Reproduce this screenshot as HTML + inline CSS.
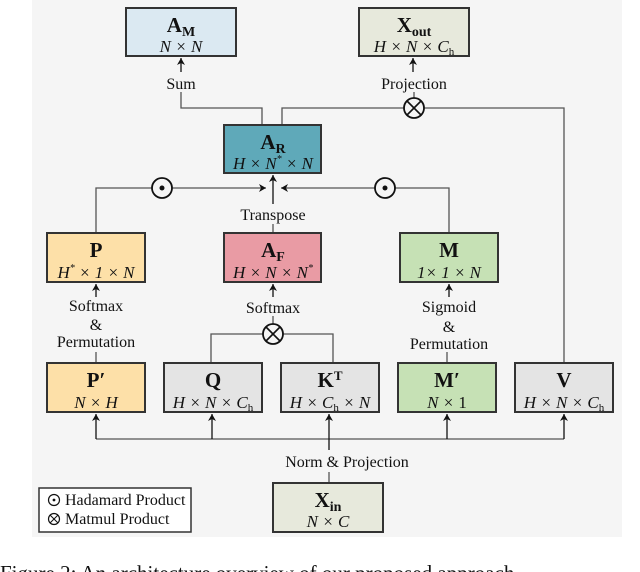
<!DOCTYPE html>
<html><head><meta charset="utf-8"><style>
html,body{margin:0;padding:0;background:#fff;width:640px;height:572px;overflow:hidden}
svg{display:block}
text{font-family:"Liberation Serif",serif;fill:#111}
.t{font-weight:bold;font-size:21px}
.s{font-style:italic;font-size:17px}
.l{font-size:16px}
</style></head><body>
<svg width="640" height="572" viewBox="0 0 640 572" xmlns="http://www.w3.org/2000/svg">
<defs><marker id="a" markerWidth="8" markerHeight="8" refX="7" refY="4" orient="auto" markerUnits="userSpaceOnUse"><path d="M0,0 L7,4 L0,8 L2,4 Z" fill="#111"/></marker></defs>
<rect x="32" y="0" width="590" height="537" fill="#f5f5f5"/>
<g stroke="#555" stroke-width="1.3" fill="none">
<!-- top -->
<line x1="181" y1="72" x2="181" y2="58" stroke="#111" marker-end="url(#a)"/>
<line x1="413" y1="72" x2="413" y2="58" stroke="#111" marker-end="url(#a)"/>
<polyline points="181,92 181,108 262,108 262,125"/>
<polyline points="282,125 282,108 404,108"/>
<polyline points="424,108 564,108 564,363"/>
<line x1="414" y1="92" x2="414" y2="98"/>
<!-- middle -->
<polyline points="96,233 96,188 152,188"/>
<line x1="172" y1="188" x2="266" y2="188" marker-end="url(#a)"/>
<polyline points="449,233 449,188 395,188"/>
<line x1="375" y1="188" x2="281" y2="188" marker-end="url(#a)"/>
<line x1="273" y1="204" x2="273" y2="175" stroke="#111" marker-end="url(#a)"/>
<line x1="273" y1="224" x2="273" y2="233"/>
<!-- lower labels -->
<line x1="96" y1="297" x2="96" y2="284" stroke="#111" marker-end="url(#a)"/>
<line x1="273" y1="297" x2="273" y2="284" stroke="#111" marker-end="url(#a)"/>
<line x1="449" y1="297" x2="449" y2="284" stroke="#111" marker-end="url(#a)"/>
<line x1="96" y1="352" x2="96" y2="363"/>
<line x1="447" y1="352" x2="447" y2="363"/>
<line x1="273" y1="316" x2="273" y2="324"/>
<polyline points="211,363 211,334 263,334"/>
<polyline points="283,334 333,334 333,363"/>
<!-- bottom -->
<polyline points="96,439 564,439"/>
<line x1="96" y1="439" x2="96" y2="414" stroke="#111" marker-end="url(#a)"/>
<line x1="212" y1="439" x2="212" y2="414" stroke="#111" marker-end="url(#a)"/>
<line x1="329" y1="450" x2="329" y2="414" stroke="#111" marker-end="url(#a)"/>
<line x1="447" y1="439" x2="447" y2="414" stroke="#111" marker-end="url(#a)"/>
<line x1="564" y1="439" x2="564" y2="414" stroke="#111" marker-end="url(#a)"/>
<line x1="329" y1="472" x2="329" y2="483"/>
</g>
<!-- operators -->
<g stroke="#111" stroke-width="1.8" fill="#f5f5f5">
<circle cx="414" cy="108" r="10"/><circle cx="162" cy="188" r="10"/><circle cx="385" cy="188" r="10"/><circle cx="273" cy="334" r="10"/>
</g>
<g stroke="#111" stroke-width="1.6">
<line x1="407" y1="101" x2="421" y2="115"/><line x1="421" y1="101" x2="407" y2="115"/>
<line x1="266" y1="327" x2="280" y2="341"/><line x1="280" y1="327" x2="266" y2="341"/>
</g>
<circle cx="162" cy="188" r="2.5" fill="#111"/><circle cx="385" cy="188" r="2.5" fill="#111"/>
<!-- boxes -->
<g stroke="#333" stroke-width="2">
<rect x="126" y="8" width="110" height="48" fill="#dbe9f2"/>
<rect x="359" y="8" width="110" height="48" fill="#e7e9dc"/>
<rect x="224" y="125" width="97" height="48" fill="#5fa9b9"/>
<rect x="47" y="233" width="98" height="49" fill="#fde0a8"/>
<rect x="224" y="233" width="97" height="49" fill="#e99ba4"/>
<rect x="400" y="233" width="98" height="49" fill="#c6e1b5"/>
<rect x="47" y="363" width="98" height="49" fill="#fde0a8"/>
<rect x="164" y="363" width="98" height="49" fill="#e4e4e4"/>
<rect x="281" y="363" width="98" height="49" fill="#e4e4e4"/>
<rect x="398" y="363" width="98" height="49" fill="#c6e1b5"/>
<rect x="515" y="363" width="98" height="49" fill="#e4e4e4"/>
<rect x="273" y="483" width="110" height="49" fill="#e7e9dc"/>
<rect x="39" y="488" width="152" height="44" fill="#fff" stroke-width="1.5"/>
</g>
<g text-anchor="middle">
<text x="181" y="32" class="t">A<tspan font-size="14" dy="4">M</tspan></text>
<text x="181" y="52" class="s">N × N</text>
<text x="414" y="32" class="t">X<tspan font-size="14" dy="4">out</tspan></text>
<text x="414" y="52" class="s">H × N × C<tspan font-size="11" dy="3" font-style="normal">h</tspan></text>
<text x="273" y="149" class="t">A<tspan font-size="14" dy="4">R</tspan></text>
<text x="273" y="169" class="s">H × N<tspan font-size="10" dy="-7">*</tspan><tspan dy="7"> × N</tspan></text>
<text x="96" y="257" class="t">P</text>
<text x="96" y="278" class="s">H<tspan font-size="10" dy="-7">*</tspan><tspan dy="7"> × 1 × N</tspan></text>
<text x="273" y="257" class="t">A<tspan font-size="14" dy="4">F</tspan></text>
<text x="273" y="278" class="s">H × N × N<tspan font-size="10" dy="-7">*</tspan></text>
<text x="449" y="257" class="t">M</text>
<text x="449" y="278" class="s" font-style="normal">1× 1 × <tspan font-style="italic">N</tspan></text>
<text x="96" y="387" class="t">P′</text>
<text x="96" y="408" class="s">N × H</text>
<text x="213" y="387" class="t">Q</text>
<text x="213" y="408" class="s">H × N × C<tspan font-size="11" dy="3" font-style="normal">h</tspan></text>
<text x="330" y="387" class="t">K<tspan font-size="13" dy="-7">T</tspan></text>
<text x="330" y="408" class="s">H × C<tspan font-size="11" dy="3" font-style="normal">h</tspan><tspan dy="-3"> × N</tspan></text>
<text x="447" y="387" class="t">M′</text>
<text x="447" y="408" class="s">N × <tspan font-style="normal">1</tspan></text>
<text x="564" y="387" class="t">V</text>
<text x="564" y="408" class="s">H × N × C<tspan font-size="11" dy="3" font-style="normal">h</tspan></text>
<text x="328" y="507" class="t">X<tspan font-size="14" dy="4">in</tspan></text>
<text x="328" y="527" class="s">N × C</text>
<text x="181" y="89" class="l">Sum</text>
<text x="414" y="89" class="l">Projection</text>
<text x="273" y="220" class="l">Transpose</text>
<text x="96" y="311" class="l">Softmax</text>
<text x="96" y="330" class="l">&amp;</text>
<text x="96" y="347" class="l">Permutation</text>
<text x="273" y="313" class="l">Softmax</text>
<text x="449" y="312" class="l">Sigmoid</text>
<text x="449" y="332" class="l">&amp;</text>
<text x="449" y="349" class="l">Permutation</text>
<text x="347" y="467" class="l">Norm &amp; Projection</text>
</g>
<g>
<circle cx="54" cy="500" r="5.5" fill="none" stroke="#111" stroke-width="1.2"/><circle cx="54" cy="500" r="1.4" fill="#111"/>
<text x="65" y="505" class="l" font-size="15">Hadamard Product</text>
<circle cx="54" cy="519" r="5.5" fill="none" stroke="#111" stroke-width="1.2"/>
<line x1="50" y1="515" x2="58" y2="523" stroke="#111" stroke-width="1.1"/><line x1="58" y1="515" x2="50" y2="523" stroke="#111" stroke-width="1.1"/>
<text x="65" y="524" class="l" font-size="15">Matmul Product</text>
</g>
<text x="0" y="580" font-size="21">Figure 2:  An architecture overview of our proposed approach</text>
</svg>
</body></html>
